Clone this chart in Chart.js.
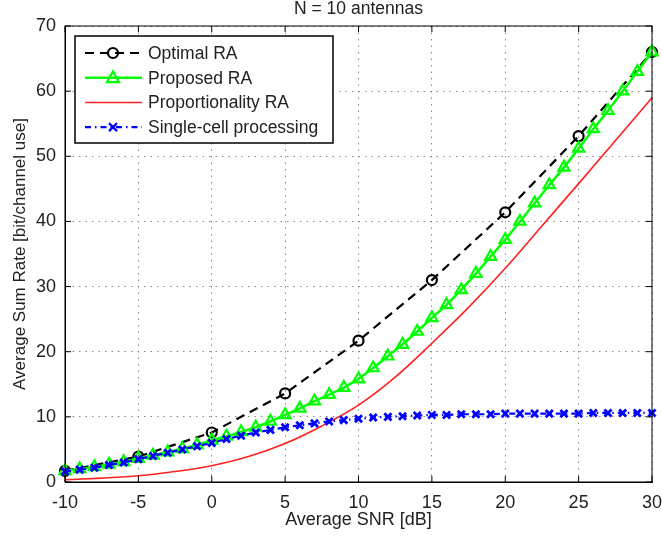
<!DOCTYPE html>
<html>
<head>
<meta charset="utf-8">
<script src="https://cdn.jsdelivr.net/npm/chart.js@4.4.0/dist/chart.umd.min.js"></script>
<style>
  body { margin: 0; background: #fff; }
  canvas { display: block; }
</style>
</head>
<body>
<canvas id="chart" width="662" height="537"></canvas>
<script>
// SNR grids [dB]
const snrEvery1 = [-10, -9, -8, -7, -6, -5, -4, -3, -2, -1, 0, 1, 2, 3, 4, 5, 6, 7, 8, 9, 10,
  11, 12, 13, 14, 15, 16, 17, 18, 19, 20, 21, 22, 23, 24, 25, 26, 27, 28, 29, 30];
const snrEvery5 = [-10, -5, 0, 5, 10, 15, 20, 25, 30];
const snrRed = [-10, -7.5, -5, -2.5, 0, 2.5, 5, 7.5, 10, 12.5, 15, 17.5, 20, 22.5, 25, 27.5, 30];

// sum rates [bit/channel use]
const optimalRA = [1.7, 3.9, 7.6, 13.6, 21.7, 31.0, 41.4, 53.1, 66.0];
const proposedRA = [1.7, 2.0, 2.3, 2.7, 3.1, 3.6, 4.1, 4.6, 5.1, 5.7, 6.4, 7.0, 7.7, 8.4, 9.3, 10.3,
  11.3, 12.4, 13.4, 14.5, 15.8, 17.5, 19.3, 21.1, 23.1, 25.2, 27.2, 29.5, 32.0, 34.6, 37.2,
  40.0, 42.8, 45.6, 48.3, 51.2, 54.2, 57.0, 60.0, 63.0, 66.0];
const proportionalityRA = [0.35, 0.6, 0.95, 1.6, 2.5, 3.9, 5.9, 8.6, 11.8, 16.1, 21.3, 26.8, 32.8,
  39.3, 45.8, 52.4, 59.0];
const singleCell = [1.6, 1.9, 2.2, 2.6, 3.0, 3.5, 4.0, 4.5, 5.0, 5.5, 6.0, 6.6, 7.1, 7.6, 8.0, 8.4,
  8.7, 9.0, 9.3, 9.5, 9.7, 9.9, 10.0, 10.1, 10.2, 10.3, 10.3, 10.4, 10.4, 10.4, 10.5,
  10.5, 10.5, 10.5, 10.5, 10.5, 10.6, 10.6, 10.6, 10.6, 10.6];

const xTicks = [-10, -5, 0, 5, 10, 15, 20, 25, 30];
const yTicks = [0, 10, 20, 30, 40, 50, 60, 70];

const FONT = 'Liberation Sans, Arial, Helvetica, sans-serif';
const TXT = '#222';

const pts = (xs, ys) => xs.map((x, i) => ({ x: x, y: ys[i] }));

// legend entries, same styles as the datasets
const legendItems = [
  { text: 'Optimal RA', color: '#000', width: 2.2, dash: [9, 6], marker: 'circle' },
  { text: 'Proposed RA', color: '#00ff00', width: 2.5, dash: [], marker: 'triangle' },
  { text: 'Proportionality RA', color: '#ff2020', width: 1.5, dash: [], marker: null },
  { text: 'Single-cell processing', color: '#0000ff', width: 2.2, dash: [6, 4, 1.5, 4], marker: 'x' }
];

function drawMarker(ctx, kind, cx, cy, color) {
  ctx.save();
  ctx.setLineDash([]);
  ctx.strokeStyle = color;
  ctx.lineWidth = 2.2;
  ctx.beginPath();
  if (kind === 'circle') {
    ctx.arc(cx, cy, 5, 0, Math.PI * 2);
  } else if (kind === 'triangle') {
    ctx.moveTo(cx, cy - 6.5);
    ctx.lineTo(cx + 6, cy + 4.5);
    ctx.lineTo(cx - 6, cy + 4.5);
    ctx.closePath();
  } else if (kind === 'x') {
    ctx.moveTo(cx - 4, cy - 4); ctx.lineTo(cx + 4, cy + 4);
    ctx.moveTo(cx + 4, cy - 4); ctx.lineTo(cx - 4, cy + 4);
  }
  ctx.stroke();
  ctx.restore();
}

const matlabLegend = {
  id: 'matlabLegend',
  afterDatasetsDraw(chart) {
    const ctx = chart.ctx;
    const a = chart.chartArea;
    const bx = a.left + 10, by = a.top + 10, bw = 258, bh = 107;
    ctx.save();
    ctx.fillStyle = '#fff';
    ctx.fillRect(bx, by, bw, bh);
    ctx.strokeStyle = '#000';
    ctx.lineWidth = 1.5;
    ctx.strokeRect(bx, by, bw, bh);
    ctx.font = '17.5px ' + FONT;
    ctx.textBaseline = 'middle';
    legendItems.forEach((it, i) => {
      const cy = by + 17 + i * 24.7;
      ctx.save();
      ctx.strokeStyle = it.color;
      ctx.lineWidth = it.width;
      ctx.setLineDash(it.dash);
      ctx.beginPath();
      ctx.moveTo(bx + 10, cy);
      ctx.lineTo(bx + 67, cy);
      ctx.stroke();
      ctx.restore();
      if (it.marker) drawMarker(ctx, it.marker, bx + 38, cy, it.color);
      ctx.fillStyle = TXT;
      ctx.fillText(it.text, bx + 73, cy + 1);
    });
    ctx.restore();
  }
};

const matlabAxes = {
  id: 'matlabAxes',
  afterDraw(chart) {
    const ctx = chart.ctx;
    const a = chart.chartArea;
    const x = chart.scales.x, y = chart.scales.y;
    ctx.save();
    ctx.strokeStyle = '#000';
    ctx.lineWidth = 1;
    ctx.strokeRect(a.left, a.top, a.right - a.left, a.bottom - a.top);
    ctx.beginPath();
    x.ticks.forEach(t => {
      const px = x.getPixelForValue(t.value);
      ctx.moveTo(px, a.bottom); ctx.lineTo(px, a.bottom - 6);
      ctx.moveTo(px, a.top); ctx.lineTo(px, a.top + 6);
    });
    y.ticks.forEach(t => {
      const py = y.getPixelForValue(t.value);
      ctx.moveTo(a.left, py); ctx.lineTo(a.left + 6, py);
      ctx.moveTo(a.right, py); ctx.lineTo(a.right - 6, py);
    });
    ctx.stroke();
    ctx.fillStyle = TXT;
    ctx.font = '17.5px ' + FONT;
    ctx.textAlign = 'center';
    ctx.textBaseline = 'middle';
    ctx.fillText('N = 10 antennas', (a.left + a.right) / 2, 9);
    ctx.restore();
  }
};

new Chart(document.getElementById('chart'), {
  type: 'line',
  data: {
    datasets: [
      {
        label: 'Optimal RA',
        data: pts(snrEvery5, optimalRA),
        borderColor: '#000', borderWidth: 2.2, borderDash: [9, 6],
        pointStyle: 'circle', pointRadius: 5, pointBorderWidth: 2.2,
        pointBorderColor: '#000', pointBackgroundColor: 'rgba(0,0,0,0)',
        tension: 0, clip: false, order: 4
      },
      {
        label: 'Proposed RA',
        data: pts(snrEvery1, proposedRA),
        borderColor: '#00ff00', borderWidth: 2.5,
        pointStyle: 'triangle', pointRadius: 6.5, pointBorderWidth: 2.2,
        pointBorderColor: '#00ff00', pointBackgroundColor: 'rgba(0,0,0,0)',
        tension: 0, clip: false, order: 3
      },
      {
        label: 'Proportionality RA',
        data: pts(snrRed, proportionalityRA),
        borderColor: '#ff2020', borderWidth: 1.6,
        pointRadius: 0, cubicInterpolationMode: 'monotone',
        clip: false, order: 2
      },
      {
        label: 'Single-cell processing',
        data: pts(snrEvery1, singleCell),
        borderColor: '#0000ff', borderWidth: 2.2, borderDash: [6, 4, 1.5, 4],
        pointStyle: 'crossRot', pointRadius: 5, pointBorderWidth: 2.8,
        pointBorderColor: '#0000ff', pointBackgroundColor: '#0000ff',
        tension: 0, clip: false, order: 1
      }
    ]
  },
  options: {
    responsive: false,
    animation: false,
    devicePixelRatio: 1,
    layout: { padding: { top: 26, right: 10, left: 0, bottom: 0 } },
    plugins: { legend: { display: false }, tooltip: { enabled: false } },
    scales: {
      x: {
        type: 'linear', min: -10, max: 30,
        afterFit(s) { s.height = 55; s.paddingLeft = 0; s.paddingRight = 0; },
        afterBuildTicks(s) { s.ticks = xTicks.map(v => ({ value: v })); },
        ticks: { color: TXT, font: { family: FONT, size: 18 }, padding: 10, maxRotation: 0 },
        grid: { color: '#8a8a8a', lineWidth: 1, drawTicks: false },
        border: { color: '#000', dash: [1.5, 5] },
        title: { display: true, text: 'Average SNR [dB]', color: TXT,
          font: { family: FONT, size: 18 }, padding: { top: 0, bottom: 6 } }
      },
      y: {
        type: 'linear', min: 0, max: 70,
        afterFit(s) { s.width = 65; s.paddingTop = 0; s.paddingBottom = 0; },
        afterBuildTicks(s) { s.ticks = yTicks.map(v => ({ value: v })); },
        ticks: { color: TXT, font: { family: FONT, size: 18 }, padding: 9 },
        grid: { color: '#8a8a8a', lineWidth: 1, drawTicks: false },
        border: { color: '#000', dash: [1.5, 5] },
        title: { display: true, text: 'Average Sum Rate [bit/channel use]', color: TXT,
          font: { family: FONT, size: 17 }, padding: { top: 10, bottom: 0 } }
      }
    }
  },
  plugins: [matlabLegend, matlabAxes]
});
</script>
</body>
</html>
